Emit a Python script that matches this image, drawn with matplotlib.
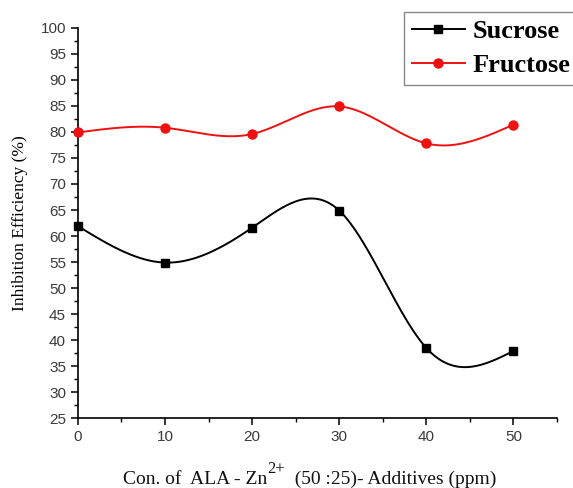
import numpy as np
import matplotlib
matplotlib.use("Agg")
import matplotlib.pyplot as plt
from matplotlib.ticker import MultipleLocator

# data
conc = [0, 10, 20, 30, 40, 50]
sucrose = [61.9, 54.9, 61.6, 64.9, 38.5, 37.9]
fructose = [79.9, 80.8, 79.6, 84.9, 77.8, 81.4]


def natural_spline(x, y, n=300):
    """Natural cubic spline through the points, for a smooth connecting line."""
    x = np.asarray(x, float)
    y = np.asarray(y, float)
    k = len(x)
    h = np.diff(x)
    A = np.zeros((k, k))
    b = np.zeros(k)
    A[0, 0] = A[-1, -1] = 1
    for i in range(1, k - 1):
        A[i, i - 1] = h[i - 1]
        A[i, i] = 2 * (h[i - 1] + h[i])
        A[i, i + 1] = h[i]
        b[i] = 3 * ((y[i + 1] - y[i]) / h[i] - (y[i] - y[i - 1]) / h[i - 1])
    c = np.linalg.solve(A, b)
    xs = np.linspace(x[0], x[-1], n)
    idx = np.clip(np.searchsorted(x, xs) - 1, 0, k - 2)
    dx = xs - x[idx]
    bb = (y[idx + 1] - y[idx]) / h[idx] - h[idx] * (2 * c[idx] + c[idx + 1]) / 3
    dd = (c[idx + 1] - c[idx]) / (3 * h[idx])
    ys = y[idx] + bb * dx + c[idx] * dx ** 2 + dd * dx ** 3
    return xs, ys


fig = plt.figure(figsize=(5.73, 4.88), dpi=100)
ax = fig.add_axes([0.136, 0.143, 0.836, 0.800])

for vals, col, mk, ms, name in [(sucrose, "black", "s", 6, "Sucrose"),
                                (fructose, "#ee1111", "o", 6.5, "Fructose")]:
    xs, ys = natural_spline(conc, vals)
    ax.plot(xs, ys, color=col, lw=1.4, zorder=2)
    ax.plot(conc, vals, ls="none", marker=mk, ms=ms, color=col, zorder=3, clip_on=False)
    ax.plot([], [], color=col, lw=1.4, marker=mk, ms=ms, label=name)

ax.set_xlim(0, 55)
ax.set_ylim(25, 100)
ax.xaxis.set_major_locator(MultipleLocator(10))
ax.xaxis.set_minor_locator(MultipleLocator(5))
ax.yaxis.set_major_locator(MultipleLocator(5))
ax.yaxis.set_minor_locator(MultipleLocator(2.5))
ax.set_xticks([0, 10, 20, 30, 40, 50])

for s in ["top", "right"]:
    ax.spines[s].set_visible(False)
for s in ["left", "bottom"]:
    ax.spines[s].set_linewidth(1.2)

ax.tick_params(which="major", length=5, width=1.1, direction="out",
               labelsize=11, labelcolor="#3a3a3a")
ax.tick_params(which="minor", length=3, width=1.0, direction="out")
for lab in ax.get_xticklabels() + ax.get_yticklabels():
    lab.set_fontfamily("Liberation Sans")

ax.set_ylabel("Inhibition Efficiency (%)", family="Liberation Serif",
              fontsize=12.5, labelpad=9)

# x label built from pieces so the superscript can be as large as in the original
serif = {"family": "Liberation Serif", "color": "#111111"}
base_y = 0.008
parts = [("Con. of  ALA - Zn", 14, 0), ("2+", 12, 0.022),
         ("  (50 :25)- Additives (ppm)", 14, 0)]
texts = [fig.text(0, base_y + dy, s, fontsize=fs, va="baseline", ha="left", **serif)
         for s, fs, dy in parts]
fig.canvas.draw()
r = fig.canvas.get_renderer()
widths = [t.get_window_extent(r).width / fig.bbox.width for t in texts]
x = 0.54 - sum(widths) / 2
for t, w in zip(texts, widths):
    t.set_x(x)
    x += w

leg = fig.legend(loc="upper left", bbox_to_anchor=(0.705, 0.976), borderaxespad=0,
                 prop={"family": "Liberation Serif", "weight": "bold", "size": 19},
                 handlelength=2.0, handletextpad=0.3, labelspacing=0.4,
                 borderpad=0.3, fancybox=False, edgecolor="#888888",
                 framealpha=1)
leg.get_frame().set_linewidth(1.0)

fig.savefig("out.png", dpi=100)
